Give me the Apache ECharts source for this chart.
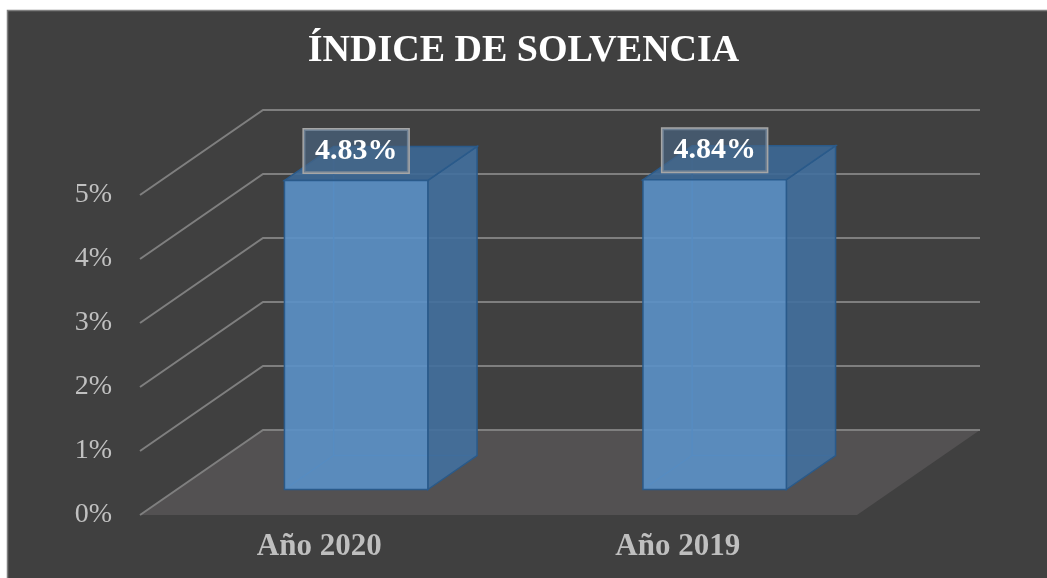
<!DOCTYPE html>
<html>
<head>
<meta charset="utf-8">
<title>Índice de solvencia</title>
<script src="https://cdn.jsdelivr.net/npm/echarts@6/dist/echarts.min.js"></script>
<style>
html, body { margin: 0; padding: 0; background: #fff; }
#chart { width: 1047px; height: 578px; }
</style>
</head>
<body>
<div id="chart"></div>
<script>
'use strict';
var categories = ['Año 2020', 'Año 2019'];
var solvencia = [4.83, 4.84];
var yTicks = [0, 1, 2, 3, 4, 5];

// fake 3d: offset of the back wall from the front plane
var DEPTH_X = 123, DEPTH_Y = -85;
var BAR_FRONT = 0.30, BAR_BACK = 0.70, BAR_WIDTH = 0.40;
var SERIF = '"Liberation Serif", "Times New Roman", serif';

function shift(x, y, f) {
    return [x + DEPTH_X * f, y + DEPTH_Y * f];
}

// floor + gridlines running along the left wall and the back wall
function renderWall(params, api) {
    var cs = params.coordSys;
    var v = api.value(1);
    var y = api.coord([0, v])[1];
    var x0 = cs.x, x1 = cs.x + cs.width;
    var children = [];
    if (v === 0) {
        children.push({
            type: 'polygon',
            shape: { points: [[x0, y], shift(x0, y, 1), shift(x1, y, 1), [x1, y]] },
            style: { fill: '#535152' }
        });
    }
    children.push({
        type: 'polyline',
        shape: { points: [[x0, y], shift(x0, y, 1), shift(x1, y, 1)] },
        style: { stroke: '#7f7f7f', lineWidth: 2, fill: null }
    });
    return { type: 'group', children: children };
}

function renderBar(params, api) {
    var idx = api.value(0), val = api.value(1);
    var base = api.coord([idx, 0]);
    var top = api.coord([idx, val]);
    var w = api.size([1, 0])[0] * BAR_WIDTH;
    var l = base[0] - w / 2, r = base[0] + w / 2, b = base[1], t = top[1];
    var flb = shift(l, b, BAR_FRONT), frb = shift(r, b, BAR_FRONT);
    var flt = shift(l, t, BAR_FRONT), frt = shift(r, t, BAR_FRONT);
    var blb = shift(l, b, BAR_BACK), brb = shift(r, b, BAR_BACK);
    var blt = shift(l, t, BAR_BACK), brt = shift(r, t, BAR_BACK);
    var edge = '#2a5a8a';
    return {
        type: 'group',
        children: [
            // hidden edges, they show through the faces
            { type: 'polyline', shape: { points: [flb, blb, brb] }, style: { stroke: edge, lineWidth: 1.5, fill: null } },
            { type: 'polyline', shape: { points: [blb, blt] }, style: { stroke: edge, lineWidth: 1.5, fill: null } },
            // side
            { type: 'polygon', shape: { points: [frb, brb, brt, frt] },
              style: { fill: 'rgba(66,112,158,0.9)', stroke: edge, lineWidth: 1.5 } },
            // top
            { type: 'polygon', shape: { points: [flt, frt, brt, blt] },
              style: { fill: 'rgba(60,104,150,0.9)', stroke: edge, lineWidth: 1.5 } },
            // front
            { type: 'rect', shape: { x: flt[0], y: flt[1], width: w, height: flb[1] - flt[1] },
              style: { fill: 'rgba(91,145,200,0.9)', stroke: edge, lineWidth: 1.5 } },
            // data label
            { type: 'text', x: (flt[0] + frt[0]) / 2, y: flt[1] - 8, z2: 10,
              style: {
                  text: val.toFixed(2) + '%',
                  fill: '#ffffff',
                  font: 'bold 30px ' + SERIF,
                  align: 'center',
                  verticalAlign: 'bottom',
                  lineHeight: 35,
                  padding: [4, 11, 4, 11],
                  backgroundColor: 'rgba(72,104,136,0.62)',
                  borderColor: '#a6a6a6',
                  borderWidth: 1.5
              } }
        ]
    };
}

var chart = echarts.init(document.getElementById('chart'));
chart.setOption({
    backgroundColor: '#ffffff',
    animation: false,
    graphic: [{
        type: 'rect', z: -1, silent: true,
        shape: { x: 7.5, y: 10.5, width: 1045, height: 573 },
        style: { fill: '#404040', stroke: '#7f7f7f', lineWidth: 1.5 }
    }],
    title: {
        text: 'ÍNDICE DE SOLVENCIA',
        left: 'center',
        top: 27,
        padding: [5, 0, 5, 19],
        textStyle: { color: '#ffffff', fontFamily: SERIF, fontWeight: 'bold', fontSize: 38 }
    },
    grid: { left: 140, right: 190, top: 195, bottom: 63 },
    xAxis: {
        type: 'category',
        data: categories,
        axisLine: { show: false },
        axisTick: { show: false },
        splitLine: { show: false },
        axisLabel: { color: '#bfbfbf', fontFamily: SERIF, fontWeight: 'bold', fontSize: 31, margin: 16 }
    },
    yAxis: {
        type: 'value',
        min: 0,
        max: 5,
        interval: 1,
        axisLine: { show: false },
        axisTick: { show: false },
        splitLine: { show: false },
        axisLabel: { formatter: '{value}%', color: '#c0c0c0', fontFamily: SERIF, fontSize: 28, margin: 28 }
    },
    series: [{
        type: 'custom',
        name: 'grid',
        silent: true,
        clip: false,
        z: 1,
        data: yTicks.map(function(t) { return [0, t]; }),
        renderItem: renderWall
    }, {
        type: 'custom',
        name: 'Índice de solvencia',
        clip: false,
        z: 2,
        data: categories.map(function(c, i) { return [i, solvencia[i]]; }),
        renderItem: renderBar
    }]
});
</script>
</body>
</html>
